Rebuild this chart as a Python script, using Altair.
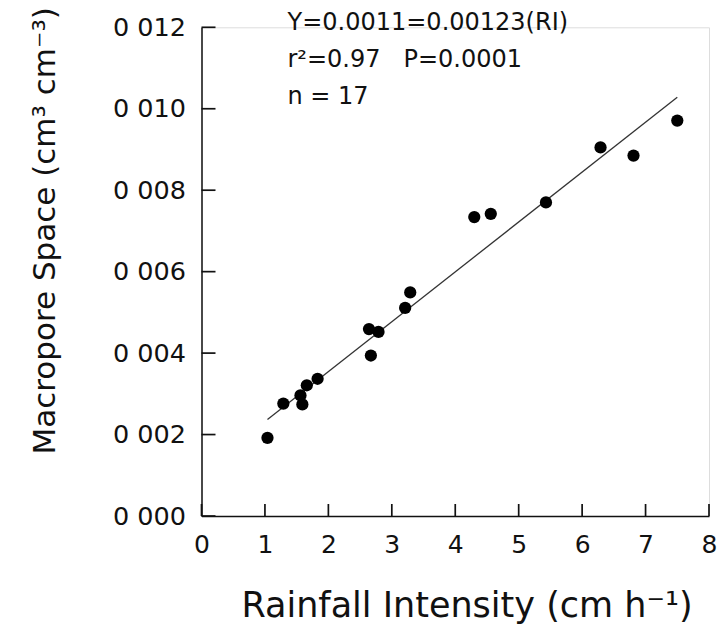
import altair as alt
import pandas as pd

# ---- data ----
rainfall_intensity = [1.04, 1.29, 1.56, 1.59, 1.66, 1.83, 2.64, 2.67, 2.79,
                      3.21, 3.29, 4.30, 4.56, 5.43, 6.29, 6.81, 7.50]
macropore_space = [0.00192, 0.00276, 0.00296, 0.00274, 0.00321, 0.00337,
                   0.00459, 0.00394, 0.00452, 0.00511, 0.00549, 0.00734,
                   0.00742, 0.00770, 0.00905, 0.00885, 0.00971]
fit_x = [1.04, 7.50]
fit_y = [0.00237, 0.01028]
x_ticks = [0, 1, 2, 3, 4, 5, 6, 7, 8]
y_ticks = [0.000, 0.002, 0.004, 0.006, 0.008, 0.010, 0.012]
annotation_lines = ["Y=0.0011=0.00123(RI)",
                    "r\u00b2=0.97\u00a0\u00a0\u00a0P=0.0001",
                    "n = 17"]
x_title = "Rainfall Intensity (cm h\u207b\u00b9)"
y_title = "Macropore Space (cm\u00b3 cm\u207b\u00b3)"

# ---- layout ----
W, H = 507.5, 488.7
PAD = {"left": 201.5, "top": 27.3, "right": 13.0, "bottom": 115.0}
FONT = "DejaVu Sans"
INK = "#111111"

pts = pd.DataFrame({"ri": rainfall_intensity, "ms": macropore_space})
fit = pd.DataFrame({"ri": fit_x, "ms": fit_y})
xt = pd.DataFrame({"ri": x_ticks})
yt = pd.DataFrame({"ms": y_ticks})

xscale = alt.Scale(domain=[0, 8], nice=False, zero=False)
yscale = alt.Scale(domain=[0, 0.012], nice=False, zero=False)

x_axis = alt.Axis(values=x_ticks, format="d", ticks=False, grid=False,
                  domainColor=INK, domainWidth=1.5, labelFont=FONT,
                  labelFontSize=25, labelColor=INK, labelPadding=16,
                  labelFlush=False,
                  title=x_title, titleFont=FONT, titleFontSize=35,
                  titleFontWeight="normal", titleColor=INK,
                  titleX=265, titleY=89, titleBaseline="middle",
                  titleAlign="center")
y_axis = alt.Axis(values=y_ticks, ticks=False, grid=False, domainColor=INK,
                  domainWidth=1.5, labelFont=FONT, labelFontSize=25.5,
                  labelColor=INK, labelPadding=16, labelFlush=False,
                  labelExpr="replace(format(datum.value, '.3f'), '.', ' ')",
                  title=y_title, titleFont=FONT, titleFontSize=31,
                  titleFontWeight="normal", titleColor=INK,
                  titleX=-156, titleY=203, titleBaseline="middle",
                  titleAlign="center", titleAngle=270)

points = alt.Chart(pts).mark_circle(size=150, color="#000000", opacity=1).encode(
    x=alt.X("ri:Q", scale=xscale, axis=x_axis),
    y=alt.Y("ms:Q", scale=yscale, axis=y_axis),
)

line = alt.Chart(fit).mark_line(color="#333333", strokeWidth=1.3).encode(
    x=alt.X("ri:Q", scale=xscale),
    y=alt.Y("ms:Q", scale=yscale),
)

# inward-pointing tick marks
xticks_layer = alt.Chart(xt).mark_rule(
    color=INK, strokeWidth=1.7, opacity=1
).encode(
    x=alt.X("ri:Q", scale=xscale),
    y=alt.value(H),
    y2=alt.value(H - 12),
)
yticks_layer = alt.Chart(yt).mark_rule(
    color=INK, strokeWidth=1.7, opacity=1
).encode(
    y=alt.Y("ms:Q", scale=yscale),
    x=alt.value(0),
    x2=alt.value(14),
)

text_layers = []
row_y = [-4.5, 32.5, 69.5]
for line_text, yy in zip(annotation_lines, row_y):
    text_layers.append(
        alt.Chart(pd.DataFrame({"t": [line_text]})).mark_text(
            align="left", baseline="middle", font=FONT, fontSize=24,
            color=INK
        ).encode(text="t:N", x=alt.value(86), y=alt.value(yy))
    )

chart = alt.layer(line, points, xticks_layer, yticks_layer, *text_layers).properties(
    width=W, height=H,
    autosize=alt.AutoSizeParams(type="none"),
    padding=PAD,
).configure_view(stroke=None).configure(background="white")

chart.save("out.html", embed_options={"renderer": "svg", "actions": False})
